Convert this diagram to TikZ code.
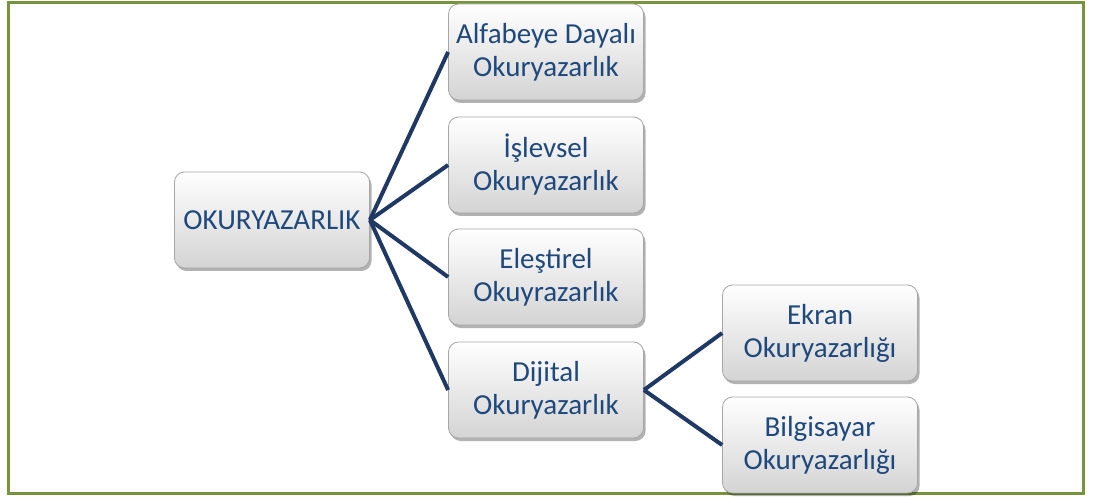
\documentclass[tikz,border=0pt]{standalone}
\usepackage{fontspec}
\setmainfont{Carlito}
\usetikzlibrary{shadows}
\definecolor{themeNavy}{RGB}{31, 56, 100}
\definecolor{themeText}{RGB}{31, 73, 125}
\definecolor{themeFrame}{RGB}{119, 147, 60}
\definecolor{themeEdge}{RGB}{166, 166, 166}

\begin{document}
\begin{tikzpicture} [
        x=0.5pt, y=-0.5pt,
        box/.style={draw=themeEdge, rounded corners=5pt,
            top color=white, bottom color=black!17,
            minimum width=97.5pt, minimum height=48pt,
            align=center, text=themeText, inner sep=2pt,
            font=\fontsize{14.5}{16.5}\selectfont,
            drop shadow={shadow xshift=1pt, shadow yshift=-1.5pt,
                fill=black, opacity=.3}},
        link/.style={draw=themeNavy, line width=2pt}
    ]

    \useasboundingbox (0,0) rectangle (1097,497);
    \draw[themeFrame, line width=1.5pt] (8,3) rectangle (1083,493);

    % root
    \node[box] (root) at (272,220) {OKURYAZARLIK};

    % first level
    \node[box] (alfa) at (546,52) {Alfabeye Dayalı\\Okuryazarlık};
    \node[box] (islev) at (546,165) {İşlevsel\\Okuryazarlık};
    \node[box] (elest) at (546,277) {Eleştirel\\Okuyrazarlık};
    \node[box] (dijit) at (546,390) {Dijital\\Okuryazarlık};

    % second level
    \node[box] (ekran) at (820,333) {Ekran\\Okuryazarlığı};
    \node[box] (bilgi) at (820,445) {Bilgisayar\\Okuryazarlığı};

    \foreach \child in {alfa, islev, elest, dijit} {
        \draw[link] (root.east) -- (\child.west);
    }
    \foreach \child in {ekran, bilgi} {
        \draw[link] (dijit.east) -- (\child.west);
    }

\end{tikzpicture}
\end{document}
